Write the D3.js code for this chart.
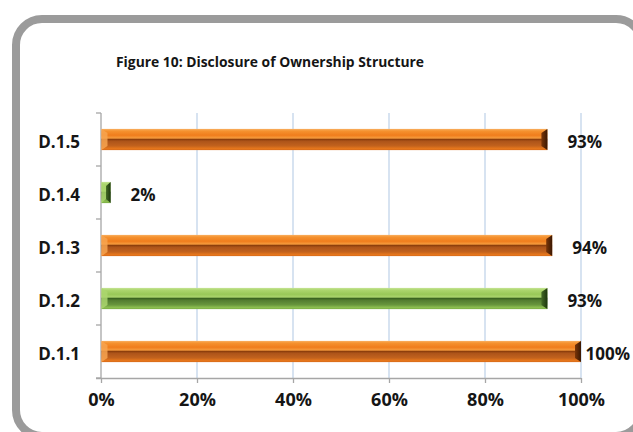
<!DOCTYPE html>
<html>
<head>
<meta charset="utf-8">
<script src="https://cdn.jsdelivr.net/npm/d3@7"></script>
<style>
  html, body { margin: 0; padding: 0; background: #ffffff; }
  svg { display: block; }
  text { font-family: "Open Sans", "DejaVu Sans", sans-serif; font-weight: 700; fill: #151515; }
</style>
</head>
<body>
<script>
// Disclosure items, listed top to bottom as drawn
const categories = ["D.1.5", "D.1.4", "D.1.3", "D.1.2", "D.1.1"];
// Share of companies disclosing each item (%)
const values = [93, 2, 94, 93, 100];
// Horizontal axis ticks (%)
const xTicks = [0, 20, 40, 60, 80, 100];
const title = "Figure 10: Disclosure of Ownership Structure";

const W = 633, H = 432;
const plot = { left: 101, right: 581, top: 113, bottom: 378 };
const FONT = "'Open Sans', 'DejaVu Sans', sans-serif";

const svg = d3.select("body").append("svg")
  .attr("width", W).attr("height", H);

// Gradients for the bevelled bars
const defs = svg.append("defs");
const palettes = {
  orange: {
    body: [[0, "#f9b062"], [0.1, "#f5922f"], [0.3, "#f07d1c"], [0.43, "#f59a3c"],
           [0.5, "#8e3f0c"], [0.58, "#ad541a"], [0.8, "#c2621d"], [0.92, "#e5761c"], [1, "#d86c1a"]],
    left: "#f7a450", right: ["#7a3508", "#3a1803"]
  },
  green: {
    body: [[0, "#c6e495"], [0.1, "#acd66e"], [0.3, "#98c858"], [0.43, "#a9d36c"],
           [0.5, "#3a6420"], [0.58, "#527c30"], [0.8, "#68963d"], [0.92, "#8cbe50"], [1, "#7cae46"]],
    left: "#acd66e", right: ["#436a24", "#1c350e"]
  }
};
Object.entries(palettes).forEach(([key, p]) => {
  const g = defs.append("linearGradient").attr("id", "body-" + key)
    .attr("x1", 0).attr("y1", 0).attr("x2", 0).attr("y2", 1);
  p.body.forEach(([o, c]) => g.append("stop").attr("offset", o).attr("stop-color", c));
  const r = defs.append("linearGradient").attr("id", "right-" + key)
    .attr("x1", 0).attr("y1", 0).attr("x2", 1).attr("y2", 0);
  r.append("stop").attr("offset", 0).attr("stop-color", p.right[0]);
  r.append("stop").attr("offset", 1).attr("stop-color", p.right[1]);
});

// Rounded chart frame, running past the right and bottom edges
svg.append("rect")
  .attr("x", 16).attr("y", 19).attr("width", 626).attr("height", 417)
  .attr("rx", 26).attr("ry", 26)
  .attr("fill", "#ffffff").attr("stroke", "#9b9b9b").attr("stroke-width", 8);

svg.append("text")
  .attr("x", 270).attr("y", 67)
  .attr("text-anchor", "middle")
  .attr("textLength", 308).attr("lengthAdjust", "spacingAndGlyphs")
  .style("font-size", "15px")
  .text(title);

const x = d3.scaleLinear().domain([0, 100]).range([plot.left, plot.right]);
const y = d3.scaleBand().domain(categories).range([plot.top, plot.bottom])
  .paddingInner(0.6).paddingOuter(0.3);

// Vertical gridlines
svg.append("g").selectAll("line")
  .data(xTicks.filter(d => d > 0))
  .join("line")
  .attr("x1", d => x(d)).attr("x2", d => x(d))
  .attr("y1", plot.top).attr("y2", plot.bottom)
  .attr("stroke", "#bcd0e8").attr("stroke-width", 1.2);

// Category axis: labels, line, and ticks on band boundaries
const yAxis = svg.append("g")
  .attr("transform", `translate(${plot.left},0)`)
  .call(d3.axisLeft(y).tickSize(0).tickPadding(21));
yAxis.select(".domain").remove();
yAxis.selectAll("text")
  .attr("dy", "0.5em")
  .style("font-size", "17px")
  .style("font-family", FONT).style("font-weight", 700).attr("fill", "#151515");

const step = y.step();
const boundaries = d3.range(categories.length + 1).map(i => plot.top + i * step);
svg.append("g").selectAll("line")
  .data(boundaries)
  .join("line")
  .attr("x1", plot.left - 5).attr("x2", plot.left)
  .attr("y1", d => d).attr("y2", d => d)
  .attr("stroke", "#a6a6a6").attr("stroke-width", 1.3);

// Value axis
const xAxis = svg.append("g")
  .attr("transform", `translate(0,${plot.bottom})`)
  .call(d3.axisBottom(x).tickValues(xTicks).tickFormat(d => d + "%").tickSize(5).tickPadding(10));
xAxis.select(".domain").attr("stroke", "#a6a6a6").attr("stroke-width", 1.3)
  .attr("d", `M${plot.left - 5},0.5H${plot.right}`);
xAxis.selectAll(".tick line").attr("stroke", "#a6a6a6").attr("stroke-width", 1.3);
xAxis.selectAll("text")
  .style("font-size", "18px")
  .style("font-family", FONT).style("font-weight", 700).attr("fill", "#151515");

svg.append("line")
  .attr("x1", plot.left).attr("x2", plot.left)
  .attr("y1", plot.top).attr("y2", plot.bottom)
  .attr("stroke", "#a6a6a6").attr("stroke-width", 1.3);

// Bevelled bars; colours alternate up from the bottom item
const rows = categories.map((c, i) => ({
  cat: c, value: values[i],
  key: (categories.length - 1 - i) % 2 === 0 ? "orange" : "green"
}));

const bars = svg.append("g").selectAll("g")
  .data(rows)
  .join("g");

bars.each(function (d) {
  const g = d3.select(this);
  const x0 = x(0) + 0.5, x1 = x(d.value);
  const y0 = y(d.cat), h = y.bandwidth(), y1 = y0 + h;
  const bev = Math.min(6, (x1 - x0) / 2), inset = 4;
  g.append("rect")
    .attr("x", x0).attr("y", y0).attr("width", x1 - x0).attr("height", h)
    .attr("fill", `url(#body-${d.key})`);
  g.append("path")
    .attr("d", `M${x0},${y0}L${x0 + bev},${y0 + inset}L${x0 + bev},${y1 - inset}L${x0},${y1}Z`)
    .attr("fill", palettes[d.key].left).attr("opacity", 0.85);
  g.append("path")
    .attr("d", `M${x1},${y0}L${x1 - bev},${y0 + inset}L${x1 - bev},${y1 - inset}L${x1},${y1}Z`)
    .attr("fill", `url(#right-${d.key})`);
});

// Value labels beside each bar, kept inside the frame
const labels = svg.append("g").selectAll("text")
  .data(rows)
  .join("text")
  .style("font-size", "17px")
  .attr("y", d => y(d.cat) + y.bandwidth() / 2)
  .attr("dy", "0.5em")
  .text(d => d.value + "%");
labels.attr("x", function (d) {
  const w = this.getComputedTextLength();
  return Math.min(x(d.value) + 20, 630 - w);
});
</script>
</body>
</html>
